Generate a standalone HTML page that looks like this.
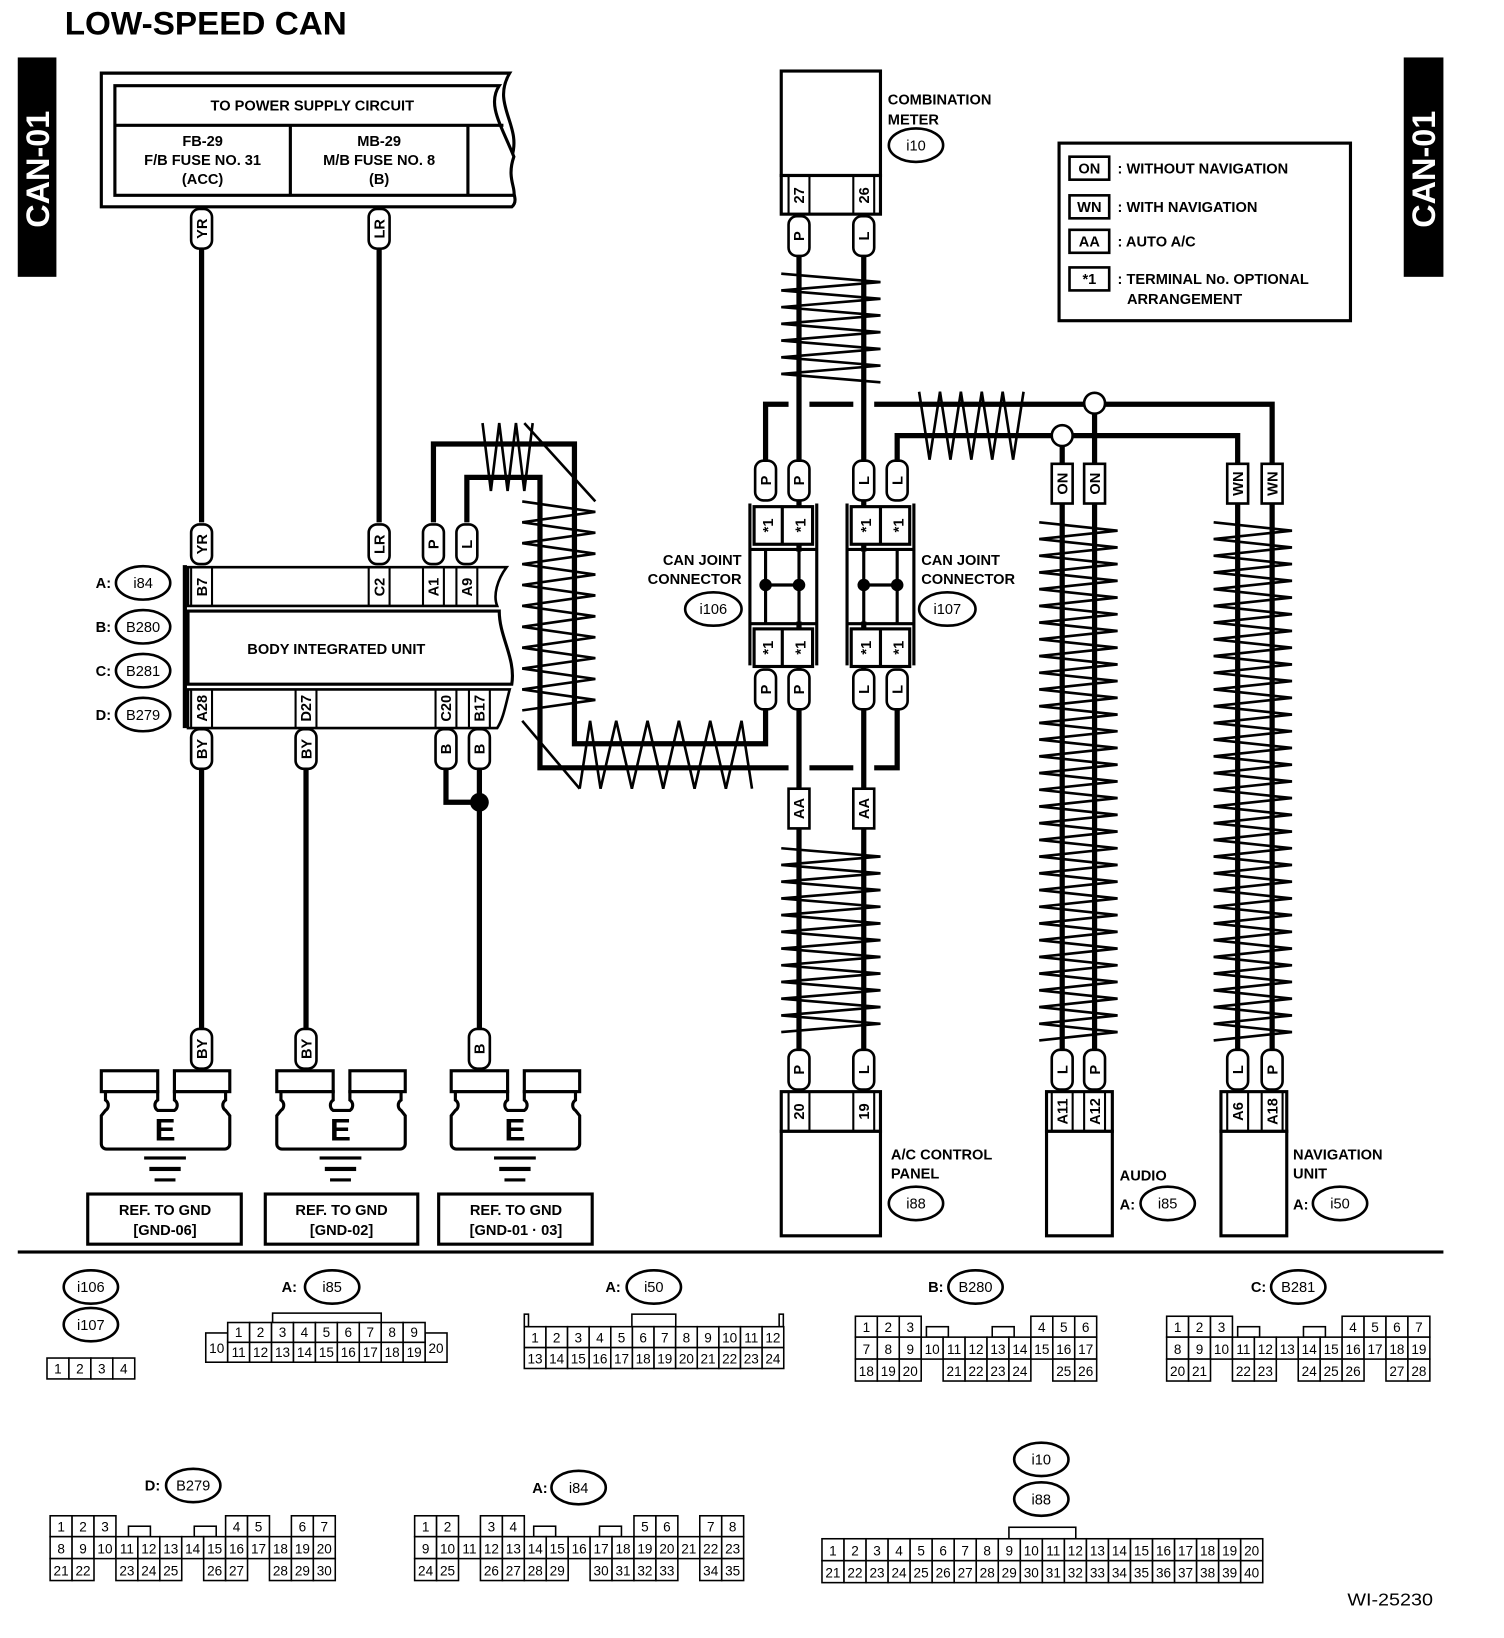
<!DOCTYPE html>
<html><head><meta charset="utf-8"><style>
html,body{margin:0;padding:0;background:#fff}
svg{display:block}
text{font-family:"Liberation Sans",sans-serif;font-weight:bold;fill:#000}
.w{stroke:#000;stroke-width:5;fill:none}
.z{stroke:#000;stroke-width:2.5;fill:none}
.b{stroke:#000;stroke-width:2.5;fill:#fff}
.t{stroke:#000;stroke-width:2;fill:none}
.c rect{stroke:#000;stroke-width:1.5;fill:#fff}
.c text{font-weight:normal;font-size:13px;text-anchor:middle}
.p rect{stroke:#000;stroke-width:2.5;fill:#fff}
.p text{font-size:14px;text-anchor:middle}
.e ellipse{stroke:#000;stroke-width:2.5;fill:#fff}
.e text{font-size:14px;text-anchor:middle;font-weight:normal}
.s{font-size:14px;text-anchor:middle}
</style></head><body>
<svg width="1504" height="1638" viewBox="0 0 1440 1568" preserveAspectRatio="none" xmlns="http://www.w3.org/2000/svg">
<text x="62" y="33" font-size="31" textLength="270" lengthAdjust="spacingAndGlyphs">LOW-SPEED CAN</text>
<rect x="17" y="55" width="37" height="210" fill="#000"/>
<text transform="translate(47,162) rotate(-90)" font-size="31" text-anchor="middle" style="fill:#fff">CAN-01</text>
<rect x="1344" y="55" width="38" height="210" fill="#000"/>
<text transform="translate(1374,162) rotate(-90)" font-size="31" text-anchor="middle" style="fill:#fff">CAN-01</text>

<!-- power supply -->
<path class="b" d="M97,70 H488 C470,100 500,120 490,150 C482,175 500,190 490,198 H97 Z" style="stroke-width:3"/>
<path class="b" d="M110,82 H478 C466,100 480,120 492,150 C485,170 494,180 492,187 H110 Z" style="stroke-width:3"/>
<line class="t" x1="110" y1="120" x2="482" y2="120" style="stroke-width:3"/>
<line class="t" x1="278" y1="120" x2="278" y2="187" style="stroke-width:3"/>
<line class="t" x1="448" y1="120" x2="448" y2="187" style="stroke-width:3"/>
<text class="s" x="299" y="106">TO POWER SUPPLY CIRCUIT</text>
<text class="s" x="194" y="140">FB-29</text><text class="s" x="194" y="158">F/B FUSE NO. 31</text><text class="s" x="194" y="176">(ACC)</text>
<text class="s" x="363" y="140">MB-29</text><text class="s" x="363" y="158">M/B FUSE NO. 8</text><text class="s" x="363" y="176">(B)</text>

<!-- left wires -->
<line class="w" x1="193" y1="198" x2="193" y2="500"/>
<line class="w" x1="363" y1="198" x2="363" y2="500"/>
<line class="w" x1="193" y1="695" x2="193" y2="1000"/>
<line class="w" x1="293" y1="695" x2="293" y2="1000"/>
<line class="w" x1="459" y1="695" x2="459" y2="1000"/>
<polyline class="w" points="427,720 427,768 459,768"/>
<circle cx="459" cy="768" r="9"/>

<!-- BIU -->
<line class="t" x1="177" y1="541" x2="177" y2="697" style="stroke-width:4"/>
<path class="b" d="M180,543 H485 C476,555 472,570 476,580 H180 Z"/>
<path class="b" d="M180,585 H478 C478,610 494,630 490,655 H180 Z" style="stroke-width:3"/>
<path class="b" d="M180,660 H488 C484,675 482,688 476,697 H180 Z"/>
<g class="t"><line x1="183" y1="543" x2="183" y2="580"/><line x1="203" y1="543" x2="203" y2="580"/>
<line x1="353" y1="543" x2="353" y2="580"/><line x1="373" y1="543" x2="373" y2="580"/>
<line x1="405" y1="543" x2="405" y2="580"/><line x1="425" y1="543" x2="425" y2="580"/>
<line x1="437" y1="543" x2="437" y2="580"/><line x1="457" y1="543" x2="457" y2="580"/>
<line x1="183" y1="660" x2="183" y2="697"/><line x1="203" y1="660" x2="203" y2="697"/>
<line x1="283" y1="660" x2="283" y2="697"/><line x1="303" y1="660" x2="303" y2="697"/>
<line x1="417" y1="660" x2="417" y2="697"/><line x1="437" y1="660" x2="437" y2="697"/>
<line x1="449" y1="660" x2="449" y2="697"/><line x1="469" y1="660" x2="469" y2="697"/></g>
<g font-size="14"><text transform="translate(198,562) rotate(-90)" text-anchor="middle">B7</text>
<text transform="translate(368,562) rotate(-90)" text-anchor="middle">C2</text>
<text transform="translate(420,562) rotate(-90)" text-anchor="middle">A1</text>
<text transform="translate(452,562) rotate(-90)" text-anchor="middle">A9</text>
<text transform="translate(198,678) rotate(-90)" text-anchor="middle">A28</text>
<text transform="translate(298,678) rotate(-90)" text-anchor="middle">D27</text>
<text transform="translate(432,678) rotate(-90)" text-anchor="middle">C20</text>
<text transform="translate(464,678) rotate(-90)" text-anchor="middle">B17</text></g>
<text class="s" x="322" y="626">BODY INTEGRATED UNIT</text>
<g class="e"><text x="99" y="563" style="font-weight:bold">A:</text><ellipse cx="137" cy="558" rx="26" ry="16"/><text x="137" y="563">i84</text>
<text x="99" y="605" style="font-weight:bold">B:</text><ellipse cx="137" cy="600" rx="26" ry="16"/><text x="137" y="605">B280</text>
<text x="99" y="647" style="font-weight:bold">C:</text><ellipse cx="137" cy="642" rx="26" ry="16"/><text x="137" y="647">B281</text>
<text x="99" y="689" style="font-weight:bold">D:</text><ellipse cx="137" cy="684" rx="26" ry="16"/><text x="137" y="689">B279</text></g>

<!-- twisted loops -->
<polyline class="w" points="415,500 415,425 550,425 550,712 733,712 733,680"/>
<polyline class="w" points="447,500 447,457 517,457 517,735 755,735"/>
<line class="w" x1="775" y1="735" x2="817" y2="735"/>
<polyline class="w" points="837,735 859,735 859,680"/>
<polyline class="z" points="462,405 470,470 478,405 486,470 494,405 502,470 510,405"/>
<line class="z" x1="502" y1="405" x2="570" y2="480"/>
<polyline class="z" points="500,480 570,490 500,500 570,510 500,520 570,530 500,540 570,550 500,560 570,570 500,580 570,590 500,600 570,610 500,620 570,630 500,640 570,650 500,660 570,670 500,680"/>
<line class="z" x1="500" y1="690" x2="555" y2="755"/>
<polyline class="z" points="555,755 565,690 575,755 590,690 605,755 620,690 635,755 650,690 665,755 680,690 695,755 710,690 720,755"/>

<!-- center wires -->
<line class="w" x1="765" y1="245" x2="765" y2="1005"/>
<line class="w" x1="827" y1="245" x2="827" y2="1005"/>
<polyline class="w" points="733,440 733,387 755,387"/>
<line class="w" x1="775" y1="387" x2="817" y2="387"/>
<polyline class="w" points="837,387 1218,387 1218,445"/>
<polyline class="w" points="859,440 859,417 1185,417 1185,445"/>
<line class="w" x1="1048" y1="387" x2="1048" y2="1005"/>
<line class="w" x1="1017" y1="417" x2="1017" y2="1005"/>
<line class="w" x1="1185" y1="445" x2="1185" y2="1005"/>
<line class="w" x1="1218" y1="445" x2="1218" y2="1005"/>
<circle cx="1048" cy="386" r="10" class="b"/>
<circle cx="1017" cy="417" r="10" class="b"/>
<polyline class="z" points="880,375 890,440 900,375 910,440 920,375 930,440 940,375 950,440 960,375 970,440 980,375"/>
<polyline class="z" points="748,262 843,270 748,278 843,286 748,294 843,302 748,310 843,318 748,326 843,334 748,342 843,350 748,358 843,366"/>
<polyline class="z" points="748,812 843,820 748,828 843,836 748,844 843,852 748,860 843,868 748,876 843,884 748,892 843,900 748,908 843,916 748,924 843,932 748,940 843,948 748,956 843,964 748,972 843,980 748,988"/>
<polyline class="z" points="995,500 1070,508 995,516 1070,524 995,532 1070,540 995,548 1070,556 995,564 1070,572 995,580 1070,588 995,596 1070,604 995,612 1070,620 995,628 1070,636 995,644 1070,652 995,660 1070,668 995,676 1070,684 995,692 1070,700 995,708 1070,716 995,724 1070,732 995,740 1070,748 995,756 1070,764 995,772 1070,780 995,788 1070,796 995,804 1070,812 995,820 1070,828 995,836 1070,844 995,852 1070,860 995,868 1070,876 995,884 1070,892 995,900 1070,908 995,916 1070,924 995,932 1070,940 995,948 1070,956 995,964 1070,972 995,980 1070,988 995,996"/>
<polyline class="z" points="1162,500 1237,508 1162,516 1237,524 1162,532 1237,540 1162,548 1237,556 1162,564 1237,572 1162,580 1237,588 1162,596 1237,604 1162,612 1237,620 1162,628 1237,636 1162,644 1237,652 1162,660 1237,668 1162,676 1237,684 1162,692 1237,700 1162,708 1237,716 1162,724 1237,732 1162,740 1237,748 1162,756 1237,764 1162,772 1237,780 1162,788 1237,796 1162,804 1237,812 1162,820 1237,828 1162,836 1237,844 1162,852 1237,860 1162,868 1237,876 1162,884 1237,892 1162,900 1237,908 1162,916 1237,924 1162,932 1237,940 1162,948 1237,956 1162,964 1237,972 1162,980 1237,988 1162,996"/>

<!-- combination meter -->
<rect class="b" x="748" y="68" width="95" height="100" style="stroke-width:3"/>
<rect class="b" x="748" y="168" width="95" height="37" style="stroke-width:3"/>
<g class="t"><line x1="755" y1="168" x2="755" y2="205"/><line x1="775" y1="168" x2="775" y2="205"/><line x1="817" y1="168" x2="817" y2="205"/><line x1="837" y1="168" x2="837" y2="205"/></g>
<text transform="translate(770,187) rotate(-90)" font-size="14" text-anchor="middle">27</text>
<text transform="translate(832,187) rotate(-90)" font-size="14" text-anchor="middle">26</text>
<text x="850" y="100" font-size="14">COMBINATION</text><text x="850" y="119" font-size="14">METER</text>
<g class="e"><ellipse cx="877" cy="139" rx="26" ry="16"/><text x="877" y="144">i10</text></g>

<!-- joint connectors -->
<g class="t" style="stroke-width:3">
<line x1="718" y1="482" x2="718" y2="637"/><line x1="782" y1="482" x2="782" y2="637"/>
<rect x="722" y="485" width="56" height="36" fill="#fff"/><line x1="749" y1="485" x2="749" y2="521"/>
<rect x="722" y="602" width="56" height="36" fill="#fff"/><line x1="749" y1="602" x2="749" y2="638"/>
<line x1="811" y1="482" x2="811" y2="637"/><line x1="875" y1="482" x2="875" y2="637"/>
<rect x="815" y="485" width="56" height="36" fill="#fff"/><line x1="843" y1="485" x2="843" y2="521"/>
<rect x="815" y="602" width="56" height="36" fill="#fff"/><line x1="843" y1="602" x2="843" y2="638"/>
</g>
<rect x="720" y="528" width="60" height="67" fill="#fff"/>
<rect x="813" y="528" width="60" height="67" fill="#fff"/>
<g class="t" style="stroke-width:3">
<line x1="733" y1="526" x2="733" y2="597"/><line x1="765" y1="526" x2="765" y2="597"/><line x1="733" y1="560" x2="765" y2="560"/>
<line x1="827" y1="526" x2="827" y2="597"/><line x1="859" y1="526" x2="859" y2="597"/><line x1="827" y1="560" x2="859" y2="560"/>
<line x1="718" y1="526" x2="782" y2="526"/><line x1="718" y1="597" x2="782" y2="597"/>
<line x1="811" y1="526" x2="875" y2="526"/><line x1="811" y1="597" x2="875" y2="597"/>
</g>
<circle cx="733" cy="560" r="6"/><circle cx="765" cy="560" r="6"/><circle cx="827" cy="560" r="6"/><circle cx="859" cy="560" r="6"/>
<g font-size="14" text-anchor="middle">
<text transform="translate(740,503) rotate(-90)">*1</text><text transform="translate(771,503) rotate(-90)">*1</text>
<text transform="translate(834,503) rotate(-90)">*1</text><text transform="translate(865,503) rotate(-90)">*1</text>
<text transform="translate(740,620) rotate(-90)">*1</text><text transform="translate(771,620) rotate(-90)">*1</text>
<text transform="translate(834,620) rotate(-90)">*1</text><text transform="translate(865,620) rotate(-90)">*1</text>
</g>
<text x="710" y="541" font-size="14" text-anchor="end">CAN JOINT</text><text x="710" y="559" font-size="14" text-anchor="end">CONNECTOR</text>
<text x="882" y="541" font-size="14">CAN JOINT</text><text x="882" y="559" font-size="14">CONNECTOR</text>
<g class="e"><ellipse cx="683" cy="583" rx="27" ry="16"/><text x="683" y="588">i106</text>
<ellipse cx="907" cy="583" rx="27" ry="16"/><text x="907" y="588">i107</text></g>

<!-- bottom units -->
<g class="b" style="stroke-width:3">
<rect x="748" y="1045" width="95" height="38"/><rect x="748" y="1083" width="95" height="100"/>
<rect x="1002" y="1045" width="63" height="38"/><rect x="1002" y="1083" width="63" height="100"/>
<rect x="1169" y="1045" width="63" height="38"/><rect x="1169" y="1083" width="63" height="100"/>
</g>
<g class="t"><line x1="755" y1="1045" x2="755" y2="1083"/><line x1="775" y1="1045" x2="775" y2="1083"/><line x1="817" y1="1045" x2="817" y2="1083"/><line x1="837" y1="1045" x2="837" y2="1083"/>
<line x1="1007" y1="1045" x2="1007" y2="1083"/><line x1="1027" y1="1045" x2="1027" y2="1083"/><line x1="1038" y1="1045" x2="1038" y2="1083"/><line x1="1058" y1="1045" x2="1058" y2="1083"/>
<line x1="1175" y1="1045" x2="1175" y2="1083"/><line x1="1195" y1="1045" x2="1195" y2="1083"/><line x1="1208" y1="1045" x2="1208" y2="1083"/><line x1="1228" y1="1045" x2="1228" y2="1083"/></g>
<g font-size="14" text-anchor="middle">
<text transform="translate(770,1064) rotate(-90)">20</text><text transform="translate(832,1064) rotate(-90)">19</text>
<text transform="translate(1022,1064) rotate(-90)">A11</text><text transform="translate(1053,1064) rotate(-90)">A12</text>
<text transform="translate(1190,1064) rotate(-90)">A6</text><text transform="translate(1223,1064) rotate(-90)">A18</text>
</g>
<text x="853" y="1110" font-size="14">A/C CONTROL</text><text x="853" y="1128" font-size="14">PANEL</text>
<text x="1072" y="1130" font-size="14">AUDIO</text><text x="1072" y="1158" font-size="14">A:</text>
<text x="1238" y="1110" font-size="14">NAVIGATION</text><text x="1238" y="1128" font-size="14">UNIT</text><text x="1238" y="1158" font-size="14">A:</text>
<g class="e"><ellipse cx="877" cy="1152" rx="26" ry="16"/><text x="877" y="1157">i88</text>
<ellipse cx="1118" cy="1152" rx="26" ry="16"/><text x="1118" y="1157">i85</text>
<ellipse cx="1283" cy="1152" rx="26" ry="16"/><text x="1283" y="1157">i50</text></g>

<!-- legend -->
<rect x="1014" y="137" width="279" height="170" fill="#fff" stroke="#000" stroke-width="3"/>
<g class="t" style="stroke-width:2.5"><rect x="1024" y="150" width="38" height="22"/><rect x="1024" y="187" width="38" height="22"/><rect x="1024" y="220" width="38" height="22"/><rect x="1024" y="256" width="38" height="22"/></g>
<g font-size="14"><text x="1043" y="166" text-anchor="middle">ON</text><text x="1043" y="203" text-anchor="middle">WN</text><text x="1043" y="236" text-anchor="middle">AA</text><text x="1043" y="272" text-anchor="middle">*1</text>
<text x="1070" y="166">: WITHOUT NAVIGATION</text><text x="1070" y="203">: WITH NAVIGATION</text><text x="1070" y="236">: AUTO A/C</text><text x="1070" y="272">: TERMINAL No. OPTIONAL</text><text x="1079" y="291">ARRANGEMENT</text></g>

<!-- pills -->
<g class="p">
<g transform="translate(193,219)"><rect x="-10" y="-19" width="20" height="38" rx="8"/><text transform="rotate(-90)" y="5">YR</text></g>
<g transform="translate(363,219)"><rect x="-10" y="-19" width="20" height="38" rx="8"/><text transform="rotate(-90)" y="5">LR</text></g>
<g transform="translate(193,521)"><rect x="-10" y="-19" width="20" height="38" rx="8"/><text transform="rotate(-90)" y="5">YR</text></g>
<g transform="translate(363,521)"><rect x="-10" y="-19" width="20" height="38" rx="8"/><text transform="rotate(-90)" y="5">LR</text></g>
<g transform="translate(415,521)"><rect x="-10" y="-19" width="20" height="38" rx="8"/><text transform="rotate(-90)" y="5">P</text></g>
<g transform="translate(447,521)"><rect x="-10" y="-19" width="20" height="38" rx="8"/><text transform="rotate(-90)" y="5">L</text></g>
<g transform="translate(193,717)"><rect x="-10" y="-19" width="20" height="38" rx="8"/><text transform="rotate(-90)" y="5">BY</text></g>
<g transform="translate(293,717)"><rect x="-10" y="-19" width="20" height="38" rx="8"/><text transform="rotate(-90)" y="5">BY</text></g>
<g transform="translate(427,717)"><rect x="-10" y="-19" width="20" height="38" rx="8"/><text transform="rotate(-90)" y="5">B</text></g>
<g transform="translate(459,717)"><rect x="-10" y="-19" width="20" height="38" rx="8"/><text transform="rotate(-90)" y="5">B</text></g>
<g transform="translate(193,1004)"><rect x="-10" y="-19" width="20" height="38" rx="8"/><text transform="rotate(-90)" y="5">BY</text></g>
<g transform="translate(293,1004)"><rect x="-10" y="-19" width="20" height="38" rx="8"/><text transform="rotate(-90)" y="5">BY</text></g>
<g transform="translate(459,1004)"><rect x="-10" y="-19" width="20" height="38" rx="8"/><text transform="rotate(-90)" y="5">B</text></g>
<g transform="translate(765,226)"><rect x="-10" y="-19" width="20" height="38" rx="8"/><text transform="rotate(-90)" y="5">P</text></g>
<g transform="translate(827,226)"><rect x="-10" y="-19" width="20" height="38" rx="8"/><text transform="rotate(-90)" y="5">L</text></g>
<g transform="translate(733,460)"><rect x="-10" y="-19" width="20" height="38" rx="8"/><text transform="rotate(-90)" y="5">P</text></g>
<g transform="translate(765,460)"><rect x="-10" y="-19" width="20" height="38" rx="8"/><text transform="rotate(-90)" y="5">P</text></g>
<g transform="translate(827,460)"><rect x="-10" y="-19" width="20" height="38" rx="8"/><text transform="rotate(-90)" y="5">L</text></g>
<g transform="translate(859,460)"><rect x="-10" y="-19" width="20" height="38" rx="8"/><text transform="rotate(-90)" y="5">L</text></g>
<g transform="translate(733,660)"><rect x="-10" y="-19" width="20" height="38" rx="8"/><text transform="rotate(-90)" y="5">P</text></g>
<g transform="translate(765,660)"><rect x="-10" y="-19" width="20" height="38" rx="8"/><text transform="rotate(-90)" y="5">P</text></g>
<g transform="translate(827,660)"><rect x="-10" y="-19" width="20" height="38" rx="8"/><text transform="rotate(-90)" y="5">L</text></g>
<g transform="translate(859,660)"><rect x="-10" y="-19" width="20" height="38" rx="8"/><text transform="rotate(-90)" y="5">L</text></g>
<g transform="translate(765,1024)"><rect x="-10" y="-19" width="20" height="38" rx="8"/><text transform="rotate(-90)" y="5">P</text></g>
<g transform="translate(827,1024)"><rect x="-10" y="-19" width="20" height="38" rx="8"/><text transform="rotate(-90)" y="5">L</text></g>
<g transform="translate(1017,1024)"><rect x="-10" y="-19" width="20" height="38" rx="8"/><text transform="rotate(-90)" y="5">L</text></g>
<g transform="translate(1048,1024)"><rect x="-10" y="-19" width="20" height="38" rx="8"/><text transform="rotate(-90)" y="5">P</text></g>
<g transform="translate(1185,1024)"><rect x="-10" y="-19" width="20" height="38" rx="8"/><text transform="rotate(-90)" y="5">L</text></g>
<g transform="translate(1218,1024)"><rect x="-10" y="-19" width="20" height="38" rx="8"/><text transform="rotate(-90)" y="5">P</text></g>
<g transform="translate(765,774)"><rect x="-10" y="-19" width="20" height="38" rx="0"/><text transform="rotate(-90)" y="5">AA</text></g>
<g transform="translate(827,774)"><rect x="-10" y="-19" width="20" height="38" rx="0"/><text transform="rotate(-90)" y="5">AA</text></g>
<g transform="translate(1017,463)"><rect x="-10" y="-19" width="20" height="38" rx="0"/><text transform="rotate(-90)" y="5">ON</text></g>
<g transform="translate(1048,463)"><rect x="-10" y="-19" width="20" height="38" rx="0"/><text transform="rotate(-90)" y="5">ON</text></g>
<g transform="translate(1185,463)"><rect x="-10" y="-19" width="20" height="38" rx="0"/><text transform="rotate(-90)" y="5">WN</text></g>
<g transform="translate(1218,463)"><rect x="-10" y="-19" width="20" height="38" rx="0"/><text transform="rotate(-90)" y="5">WN</text></g>
</g>

<!-- grounds -->
<g class="b" style="stroke-width:3">
<rect x="97" y="1025" width="54" height="20"/><rect x="167" y="1025" width="53" height="20"/>
<path d="M101,1045 V1053 A6,6 0 0 1 101,1063 L97,1068 V1095 A5,5 0 0 0 102,1100 H215 A5,5 0 0 0 220,1095 V1068 L216,1063 A6,6 0 0 1 216,1053 V1045 H167 V1053 A6,6 0 0 1 167,1063 H151 A6,6 0 0 1 151,1053 V1045 Z"/>
<rect x="265" y="1025" width="54" height="20"/><rect x="335" y="1025" width="53" height="20"/>
<path d="M269,1045 V1053 A6,6 0 0 1 269,1063 L265,1068 V1095 A5,5 0 0 0 270,1100 H383 A5,5 0 0 0 388,1095 V1068 L384,1063 A6,6 0 0 1 384,1053 V1045 H335 V1053 A6,6 0 0 1 335,1063 H319 A6,6 0 0 1 319,1053 V1045 Z"/>
<rect x="432" y="1025" width="54" height="20"/><rect x="502" y="1025" width="53" height="20"/>
<path d="M436,1045 V1053 A6,6 0 0 1 436,1063 L432,1068 V1095 A5,5 0 0 0 437,1100 H550 A5,5 0 0 0 555,1095 V1068 L551,1063 A6,6 0 0 1 551,1053 V1045 H502 V1053 A6,6 0 0 1 502,1063 H486 A6,6 0 0 1 486,1053 V1045 Z"/>
</g>
<g font-size="30" text-anchor="middle"><text x="158" y="1092">E</text><text x="326" y="1092">E</text><text x="493" y="1092">E</text></g>
<g fill="#000"><rect x="138" y="1107" width="40" height="3"/><rect x="143" y="1117" width="30" height="4"/><rect x="148" y="1128" width="20" height="3"/>
<rect x="306" y="1107" width="40" height="3"/><rect x="311" y="1117" width="30" height="4"/><rect x="316" y="1128" width="20" height="3"/>
<rect x="473" y="1107" width="40" height="3"/><rect x="478" y="1117" width="30" height="4"/><rect x="483" y="1128" width="20" height="3"/></g>
<g class="t" style="stroke-width:3"><rect x="84" y="1143" width="147" height="48"/><rect x="254" y="1143" width="146" height="48"/><rect x="420" y="1143" width="147" height="48"/></g>
<g class="s"><text x="158" y="1163">REF. TO GND</text><text x="158" y="1182">[GND-06]</text>
<text x="327" y="1163">REF. TO GND</text><text x="327" y="1182">[GND-02]</text>
<text x="494" y="1163">REF. TO GND</text><text x="494" y="1182">[GND-01 · 03]</text></g>

<rect x="17" y="1197" width="1365" height="3" fill="#000"/>

<!-- connector grids -->
<g class="e">
<ellipse cx="87" cy="1232" rx="26" ry="16"/><text x="87" y="1237">i106</text>
<ellipse cx="87" cy="1268" rx="26" ry="16"/><text x="87" y="1273">i107</text>
<text x="277" y="1237" style="font-weight:bold">A:</text><ellipse cx="318" cy="1232" rx="26" ry="16"/><text x="318" y="1237">i85</text>
<text x="587" y="1237" style="font-weight:bold">A:</text><ellipse cx="626" cy="1232" rx="26" ry="16"/><text x="626" y="1237">i50</text>
<text x="896" y="1237" style="font-weight:bold">B:</text><ellipse cx="934" cy="1232" rx="26" ry="16"/><text x="934" y="1237">B280</text>
<text x="1205" y="1237" style="font-weight:bold">C:</text><ellipse cx="1243" cy="1232" rx="26" ry="16"/><text x="1243" y="1237">B281</text>
<text x="146" y="1427" style="font-weight:bold">D:</text><ellipse cx="185" cy="1422" rx="26" ry="16"/><text x="185" y="1427">B279</text>
<text x="517" y="1429" style="font-weight:bold">A:</text><ellipse cx="554" cy="1424" rx="26" ry="16"/><text x="554" y="1429">i84</text>
<ellipse cx="997" cy="1397" rx="26" ry="16"/><text x="997" y="1402">i10</text>
<ellipse cx="997" cy="1435" rx="26" ry="16"/><text x="997" y="1440">i88</text>
</g>
<g class="c">
<rect x="45" y="1300" width="21" height="20"/><text x="55.5" y="1315">1</text>
<rect x="66" y="1300" width="21" height="20"/><text x="76.5" y="1315">2</text>
<rect x="87" y="1300" width="21" height="20"/><text x="97.5" y="1315">3</text>
<rect x="108" y="1300" width="21" height="20"/><text x="118.5" y="1315">4</text>
<rect x="261" y="1257" width="104" height="10"/>
<rect x="197" y="1276" width="21" height="28"/><text x="207.5" y="1295">10</text>
<rect x="407" y="1276" width="21" height="28"/><text x="417.5" y="1295">20</text>
<rect x="218" y="1266" width="21" height="19"/><text x="228.5" y="1280">1</text>
<rect x="239" y="1266" width="21" height="19"/><text x="249.5" y="1280">2</text>
<rect x="260" y="1266" width="21" height="19"/><text x="270.5" y="1280">3</text>
<rect x="281" y="1266" width="21" height="19"/><text x="291.5" y="1280">4</text>
<rect x="302" y="1266" width="21" height="19"/><text x="312.5" y="1280">5</text>
<rect x="323" y="1266" width="21" height="19"/><text x="333.5" y="1280">6</text>
<rect x="344" y="1266" width="21" height="19"/><text x="354.5" y="1280">7</text>
<rect x="365" y="1266" width="21" height="19"/><text x="375.5" y="1280">8</text>
<rect x="386" y="1266" width="21" height="19"/><text x="396.5" y="1280">9</text>
<rect x="218" y="1285" width="21" height="19"/><text x="228.5" y="1299">11</text>
<rect x="239" y="1285" width="21" height="19"/><text x="249.5" y="1299">12</text>
<rect x="260" y="1285" width="21" height="19"/><text x="270.5" y="1299">13</text>
<rect x="281" y="1285" width="21" height="19"/><text x="291.5" y="1299">14</text>
<rect x="302" y="1285" width="21" height="19"/><text x="312.5" y="1299">15</text>
<rect x="323" y="1285" width="21" height="19"/><text x="333.5" y="1299">16</text>
<rect x="344" y="1285" width="21" height="19"/><text x="354.5" y="1299">17</text>
<rect x="365" y="1285" width="21" height="19"/><text x="375.5" y="1299">18</text>
<rect x="386" y="1285" width="21" height="19"/><text x="396.5" y="1299">19</text>
<rect x="502" y="1258" width="4" height="12"/><rect x="746" y="1258" width="4" height="12"/><rect x="605" y="1258" width="42" height="12"/>
<rect x="502" y="1270" width="20.7" height="20"/><text x="512.3" y="1285">1</text>
<rect x="522.7" y="1270" width="20.7" height="20"/><text x="533" y="1285">2</text>
<rect x="543.4" y="1270" width="20.7" height="20"/><text x="553.7" y="1285">3</text>
<rect x="564.1" y="1270" width="20.7" height="20"/><text x="574.4" y="1285">4</text>
<rect x="584.8" y="1270" width="20.7" height="20"/><text x="595.1" y="1285">5</text>
<rect x="605.5" y="1270" width="20.7" height="20"/><text x="615.8" y="1285">6</text>
<rect x="626.2" y="1270" width="20.7" height="20"/><text x="636.5" y="1285">7</text>
<rect x="646.9" y="1270" width="20.7" height="20"/><text x="657.2" y="1285">8</text>
<rect x="667.6" y="1270" width="20.7" height="20"/><text x="677.9" y="1285">9</text>
<rect x="688.3" y="1270" width="20.7" height="20"/><text x="698.6" y="1285">10</text>
<rect x="709" y="1270" width="20.7" height="20"/><text x="719.3" y="1285">11</text>
<rect x="729.7" y="1270" width="20.7" height="20"/><text x="740" y="1285">12</text>
<rect x="502" y="1290" width="20.7" height="20"/><text x="512.3" y="1305">13</text>
<rect x="522.7" y="1290" width="20.7" height="20"/><text x="533" y="1305">14</text>
<rect x="543.4" y="1290" width="20.7" height="20"/><text x="553.7" y="1305">15</text>
<rect x="564.1" y="1290" width="20.7" height="20"/><text x="574.4" y="1305">16</text>
<rect x="584.8" y="1290" width="20.7" height="20"/><text x="595.1" y="1305">17</text>
<rect x="605.5" y="1290" width="20.7" height="20"/><text x="615.8" y="1305">18</text>
<rect x="626.2" y="1290" width="20.7" height="20"/><text x="636.5" y="1305">19</text>
<rect x="646.9" y="1290" width="20.7" height="20"/><text x="657.2" y="1305">20</text>
<rect x="667.6" y="1290" width="20.7" height="20"/><text x="677.9" y="1305">21</text>
<rect x="688.3" y="1290" width="20.7" height="20"/><text x="698.6" y="1305">22</text>
<rect x="709" y="1290" width="20.7" height="20"/><text x="719.3" y="1305">23</text>
<rect x="729.7" y="1290" width="20.7" height="20"/><text x="740" y="1305">24</text>
<rect x="887" y="1270" width="21" height="10"/><rect x="950" y="1270" width="21" height="10"/>
<rect x="819" y="1260" width="21" height="20"/><text x="829.5" y="1275">1</text>
<rect x="840" y="1260" width="21" height="20"/><text x="850.5" y="1275">2</text>
<rect x="861" y="1260" width="21" height="20"/><text x="871.5" y="1275">3</text>
<rect x="987" y="1260" width="21" height="20"/><text x="997.5" y="1275">4</text>
<rect x="1008" y="1260" width="21" height="20"/><text x="1018.5" y="1275">5</text>
<rect x="1029" y="1260" width="21" height="20"/><text x="1039.5" y="1275">6</text>
<rect x="819" y="1280" width="21" height="21"/><text x="829.5" y="1296">7</text>
<rect x="840" y="1280" width="21" height="21"/><text x="850.5" y="1296">8</text>
<rect x="861" y="1280" width="21" height="21"/><text x="871.5" y="1296">9</text>
<rect x="882" y="1280" width="21" height="21"/><text x="892.5" y="1296">10</text>
<rect x="903" y="1280" width="21" height="21"/><text x="913.5" y="1296">11</text>
<rect x="924" y="1280" width="21" height="21"/><text x="934.5" y="1296">12</text>
<rect x="945" y="1280" width="21" height="21"/><text x="955.5" y="1296">13</text>
<rect x="966" y="1280" width="21" height="21"/><text x="976.5" y="1296">14</text>
<rect x="987" y="1280" width="21" height="21"/><text x="997.5" y="1296">15</text>
<rect x="1008" y="1280" width="21" height="21"/><text x="1018.5" y="1296">16</text>
<rect x="1029" y="1280" width="21" height="21"/><text x="1039.5" y="1296">17</text>
<rect x="819" y="1301" width="21" height="21"/><text x="829.5" y="1317">18</text>
<rect x="840" y="1301" width="21" height="21"/><text x="850.5" y="1317">19</text>
<rect x="861" y="1301" width="21" height="21"/><text x="871.5" y="1317">20</text>
<rect x="903" y="1301" width="21" height="21"/><text x="913.5" y="1317">21</text>
<rect x="924" y="1301" width="21" height="21"/><text x="934.5" y="1317">22</text>
<rect x="945" y="1301" width="21" height="21"/><text x="955.5" y="1317">23</text>
<rect x="966" y="1301" width="21" height="21"/><text x="976.5" y="1317">24</text>
<rect x="1008" y="1301" width="21" height="21"/><text x="1018.5" y="1317">25</text>
<rect x="1029" y="1301" width="21" height="21"/><text x="1039.5" y="1317">26</text>
<rect x="1185" y="1270" width="21" height="10"/><rect x="1248" y="1270" width="21" height="10"/>
<rect x="1117" y="1260" width="21" height="20"/><text x="1127.5" y="1275">1</text>
<rect x="1138" y="1260" width="21" height="20"/><text x="1148.5" y="1275">2</text>
<rect x="1159" y="1260" width="21" height="20"/><text x="1169.5" y="1275">3</text>
<rect x="1285" y="1260" width="21" height="20"/><text x="1295.5" y="1275">4</text>
<rect x="1306" y="1260" width="21" height="20"/><text x="1316.5" y="1275">5</text>
<rect x="1327" y="1260" width="21" height="20"/><text x="1337.5" y="1275">6</text>
<rect x="1348" y="1260" width="21" height="20"/><text x="1358.5" y="1275">7</text>
<rect x="1117" y="1280" width="21" height="21"/><text x="1127.5" y="1296">8</text>
<rect x="1138" y="1280" width="21" height="21"/><text x="1148.5" y="1296">9</text>
<rect x="1159" y="1280" width="21" height="21"/><text x="1169.5" y="1296">10</text>
<rect x="1180" y="1280" width="21" height="21"/><text x="1190.5" y="1296">11</text>
<rect x="1201" y="1280" width="21" height="21"/><text x="1211.5" y="1296">12</text>
<rect x="1222" y="1280" width="21" height="21"/><text x="1232.5" y="1296">13</text>
<rect x="1243" y="1280" width="21" height="21"/><text x="1253.5" y="1296">14</text>
<rect x="1264" y="1280" width="21" height="21"/><text x="1274.5" y="1296">15</text>
<rect x="1285" y="1280" width="21" height="21"/><text x="1295.5" y="1296">16</text>
<rect x="1306" y="1280" width="21" height="21"/><text x="1316.5" y="1296">17</text>
<rect x="1327" y="1280" width="21" height="21"/><text x="1337.5" y="1296">18</text>
<rect x="1348" y="1280" width="21" height="21"/><text x="1358.5" y="1296">19</text>
<rect x="1117" y="1301" width="21" height="21"/><text x="1127.5" y="1317">20</text>
<rect x="1138" y="1301" width="21" height="21"/><text x="1148.5" y="1317">21</text>
<rect x="1180" y="1301" width="21" height="21"/><text x="1190.5" y="1317">22</text>
<rect x="1201" y="1301" width="21" height="21"/><text x="1211.5" y="1317">23</text>
<rect x="1243" y="1301" width="21" height="21"/><text x="1253.5" y="1317">24</text>
<rect x="1264" y="1301" width="21" height="21"/><text x="1274.5" y="1317">25</text>
<rect x="1285" y="1301" width="21" height="21"/><text x="1295.5" y="1317">26</text>
<rect x="1327" y="1301" width="21" height="21"/><text x="1337.5" y="1317">27</text>
<rect x="1348" y="1301" width="21" height="21"/><text x="1358.5" y="1317">28</text>
<rect x="123" y="1461" width="21" height="10"/><rect x="186" y="1461" width="21" height="10"/>
<rect x="48" y="1451" width="21" height="20"/><text x="58.5" y="1466">1</text>
<rect x="69" y="1451" width="21" height="20"/><text x="79.5" y="1466">2</text>
<rect x="90" y="1451" width="21" height="20"/><text x="100.5" y="1466">3</text>
<rect x="216" y="1451" width="21" height="20"/><text x="226.5" y="1466">4</text>
<rect x="237" y="1451" width="21" height="20"/><text x="247.5" y="1466">5</text>
<rect x="279" y="1451" width="21" height="20"/><text x="289.5" y="1466">6</text>
<rect x="300" y="1451" width="21" height="20"/><text x="310.5" y="1466">7</text>
<rect x="48" y="1471" width="21" height="21"/><text x="58.5" y="1487">8</text>
<rect x="69" y="1471" width="21" height="21"/><text x="79.5" y="1487">9</text>
<rect x="90" y="1471" width="21" height="21"/><text x="100.5" y="1487">10</text>
<rect x="111" y="1471" width="21" height="21"/><text x="121.5" y="1487">11</text>
<rect x="132" y="1471" width="21" height="21"/><text x="142.5" y="1487">12</text>
<rect x="153" y="1471" width="21" height="21"/><text x="163.5" y="1487">13</text>
<rect x="174" y="1471" width="21" height="21"/><text x="184.5" y="1487">14</text>
<rect x="195" y="1471" width="21" height="21"/><text x="205.5" y="1487">15</text>
<rect x="216" y="1471" width="21" height="21"/><text x="226.5" y="1487">16</text>
<rect x="237" y="1471" width="21" height="21"/><text x="247.5" y="1487">17</text>
<rect x="258" y="1471" width="21" height="21"/><text x="268.5" y="1487">18</text>
<rect x="279" y="1471" width="21" height="21"/><text x="289.5" y="1487">19</text>
<rect x="300" y="1471" width="21" height="21"/><text x="310.5" y="1487">20</text>
<rect x="48" y="1492" width="21" height="21"/><text x="58.5" y="1508">21</text>
<rect x="69" y="1492" width="21" height="21"/><text x="79.5" y="1508">22</text>
<rect x="111" y="1492" width="21" height="21"/><text x="121.5" y="1508">23</text>
<rect x="132" y="1492" width="21" height="21"/><text x="142.5" y="1508">24</text>
<rect x="153" y="1492" width="21" height="21"/><text x="163.5" y="1508">25</text>
<rect x="195" y="1492" width="21" height="21"/><text x="205.5" y="1508">26</text>
<rect x="216" y="1492" width="21" height="21"/><text x="226.5" y="1508">27</text>
<rect x="258" y="1492" width="21" height="21"/><text x="268.5" y="1508">28</text>
<rect x="279" y="1492" width="21" height="21"/><text x="289.5" y="1508">29</text>
<rect x="300" y="1492" width="21" height="21"/><text x="310.5" y="1508">30</text>
<rect x="511" y="1461" width="21" height="10"/><rect x="574" y="1461" width="21" height="10"/>
<rect x="397" y="1451" width="21" height="20"/><text x="407.5" y="1466">1</text>
<rect x="418" y="1451" width="21" height="20"/><text x="428.5" y="1466">2</text>
<rect x="460" y="1451" width="21" height="20"/><text x="470.5" y="1466">3</text>
<rect x="481" y="1451" width="21" height="20"/><text x="491.5" y="1466">4</text>
<rect x="607" y="1451" width="21" height="20"/><text x="617.5" y="1466">5</text>
<rect x="628" y="1451" width="21" height="20"/><text x="638.5" y="1466">6</text>
<rect x="670" y="1451" width="21" height="20"/><text x="680.5" y="1466">7</text>
<rect x="691" y="1451" width="21" height="20"/><text x="701.5" y="1466">8</text>
<rect x="397" y="1471" width="21" height="21"/><text x="407.5" y="1487">9</text>
<rect x="418" y="1471" width="21" height="21"/><text x="428.5" y="1487">10</text>
<rect x="439" y="1471" width="21" height="21"/><text x="449.5" y="1487">11</text>
<rect x="460" y="1471" width="21" height="21"/><text x="470.5" y="1487">12</text>
<rect x="481" y="1471" width="21" height="21"/><text x="491.5" y="1487">13</text>
<rect x="502" y="1471" width="21" height="21"/><text x="512.5" y="1487">14</text>
<rect x="523" y="1471" width="21" height="21"/><text x="533.5" y="1487">15</text>
<rect x="544" y="1471" width="21" height="21"/><text x="554.5" y="1487">16</text>
<rect x="565" y="1471" width="21" height="21"/><text x="575.5" y="1487">17</text>
<rect x="586" y="1471" width="21" height="21"/><text x="596.5" y="1487">18</text>
<rect x="607" y="1471" width="21" height="21"/><text x="617.5" y="1487">19</text>
<rect x="628" y="1471" width="21" height="21"/><text x="638.5" y="1487">20</text>
<rect x="649" y="1471" width="21" height="21"/><text x="659.5" y="1487">21</text>
<rect x="670" y="1471" width="21" height="21"/><text x="680.5" y="1487">22</text>
<rect x="691" y="1471" width="21" height="21"/><text x="701.5" y="1487">23</text>
<rect x="397" y="1492" width="21" height="21"/><text x="407.5" y="1508">24</text>
<rect x="418" y="1492" width="21" height="21"/><text x="428.5" y="1508">25</text>
<rect x="460" y="1492" width="21" height="21"/><text x="470.5" y="1508">26</text>
<rect x="481" y="1492" width="21" height="21"/><text x="491.5" y="1508">27</text>
<rect x="502" y="1492" width="21" height="21"/><text x="512.5" y="1508">28</text>
<rect x="523" y="1492" width="21" height="21"/><text x="533.5" y="1508">29</text>
<rect x="565" y="1492" width="21" height="21"/><text x="575.5" y="1508">30</text>
<rect x="586" y="1492" width="21" height="21"/><text x="596.5" y="1508">31</text>
<rect x="607" y="1492" width="21" height="21"/><text x="617.5" y="1508">32</text>
<rect x="628" y="1492" width="21" height="21"/><text x="638.5" y="1508">33</text>
<rect x="670" y="1492" width="21" height="21"/><text x="680.5" y="1508">34</text>
<rect x="691" y="1492" width="21" height="21"/><text x="701.5" y="1508">35</text>
<rect x="966" y="1462" width="64" height="11"/>
<rect x="787" y="1473" width="21.1" height="21"/><text x="797.5" y="1489">1</text>
<rect x="808.1" y="1473" width="21.1" height="21"/><text x="818.6" y="1489">2</text>
<rect x="829.2" y="1473" width="21.1" height="21"/><text x="839.7" y="1489">3</text>
<rect x="850.3" y="1473" width="21.1" height="21"/><text x="860.8" y="1489">4</text>
<rect x="871.4" y="1473" width="21.1" height="21"/><text x="881.9" y="1489">5</text>
<rect x="892.5" y="1473" width="21.1" height="21"/><text x="903" y="1489">6</text>
<rect x="913.6" y="1473" width="21.1" height="21"/><text x="924.1" y="1489">7</text>
<rect x="934.7" y="1473" width="21.1" height="21"/><text x="945.2" y="1489">8</text>
<rect x="955.8" y="1473" width="21.1" height="21"/><text x="966.3" y="1489">9</text>
<rect x="976.9" y="1473" width="21.1" height="21"/><text x="987.4" y="1489">10</text>
<rect x="998" y="1473" width="21.1" height="21"/><text x="1008.5" y="1489">11</text>
<rect x="1019.1" y="1473" width="21.1" height="21"/><text x="1029.6" y="1489">12</text>
<rect x="1040.2" y="1473" width="21.1" height="21"/><text x="1050.7" y="1489">13</text>
<rect x="1061.3" y="1473" width="21.1" height="21"/><text x="1071.8" y="1489">14</text>
<rect x="1082.4" y="1473" width="21.1" height="21"/><text x="1092.9" y="1489">15</text>
<rect x="1103.5" y="1473" width="21.1" height="21"/><text x="1114" y="1489">16</text>
<rect x="1124.6" y="1473" width="21.1" height="21"/><text x="1135.1" y="1489">17</text>
<rect x="1145.7" y="1473" width="21.1" height="21"/><text x="1156.2" y="1489">18</text>
<rect x="1166.8" y="1473" width="21.1" height="21"/><text x="1177.3" y="1489">19</text>
<rect x="1187.9" y="1473" width="21.1" height="21"/><text x="1198.4" y="1489">20</text>
<rect x="787" y="1494" width="21.1" height="21"/><text x="797.5" y="1510">21</text>
<rect x="808.1" y="1494" width="21.1" height="21"/><text x="818.6" y="1510">22</text>
<rect x="829.2" y="1494" width="21.1" height="21"/><text x="839.7" y="1510">23</text>
<rect x="850.3" y="1494" width="21.1" height="21"/><text x="860.8" y="1510">24</text>
<rect x="871.4" y="1494" width="21.1" height="21"/><text x="881.9" y="1510">25</text>
<rect x="892.5" y="1494" width="21.1" height="21"/><text x="903" y="1510">26</text>
<rect x="913.6" y="1494" width="21.1" height="21"/><text x="924.1" y="1510">27</text>
<rect x="934.7" y="1494" width="21.1" height="21"/><text x="945.2" y="1510">28</text>
<rect x="955.8" y="1494" width="21.1" height="21"/><text x="966.3" y="1510">29</text>
<rect x="976.9" y="1494" width="21.1" height="21"/><text x="987.4" y="1510">30</text>
<rect x="998" y="1494" width="21.1" height="21"/><text x="1008.5" y="1510">31</text>
<rect x="1019.1" y="1494" width="21.1" height="21"/><text x="1029.6" y="1510">32</text>
<rect x="1040.2" y="1494" width="21.1" height="21"/><text x="1050.7" y="1510">33</text>
<rect x="1061.3" y="1494" width="21.1" height="21"/><text x="1071.8" y="1510">34</text>
<rect x="1082.4" y="1494" width="21.1" height="21"/><text x="1092.9" y="1510">35</text>
<rect x="1103.5" y="1494" width="21.1" height="21"/><text x="1114" y="1510">36</text>
<rect x="1124.6" y="1494" width="21.1" height="21"/><text x="1135.1" y="1510">37</text>
<rect x="1145.7" y="1494" width="21.1" height="21"/><text x="1156.2" y="1510">38</text>
<rect x="1166.8" y="1494" width="21.1" height="21"/><text x="1177.3" y="1510">39</text>
<rect x="1187.9" y="1494" width="21.1" height="21"/><text x="1198.4" y="1510">40</text>
</g>
<text x="1290" y="1537" font-size="17" style="font-weight:normal" textLength="82" lengthAdjust="spacingAndGlyphs">WI-25230</text>
</svg>
</body></html>
